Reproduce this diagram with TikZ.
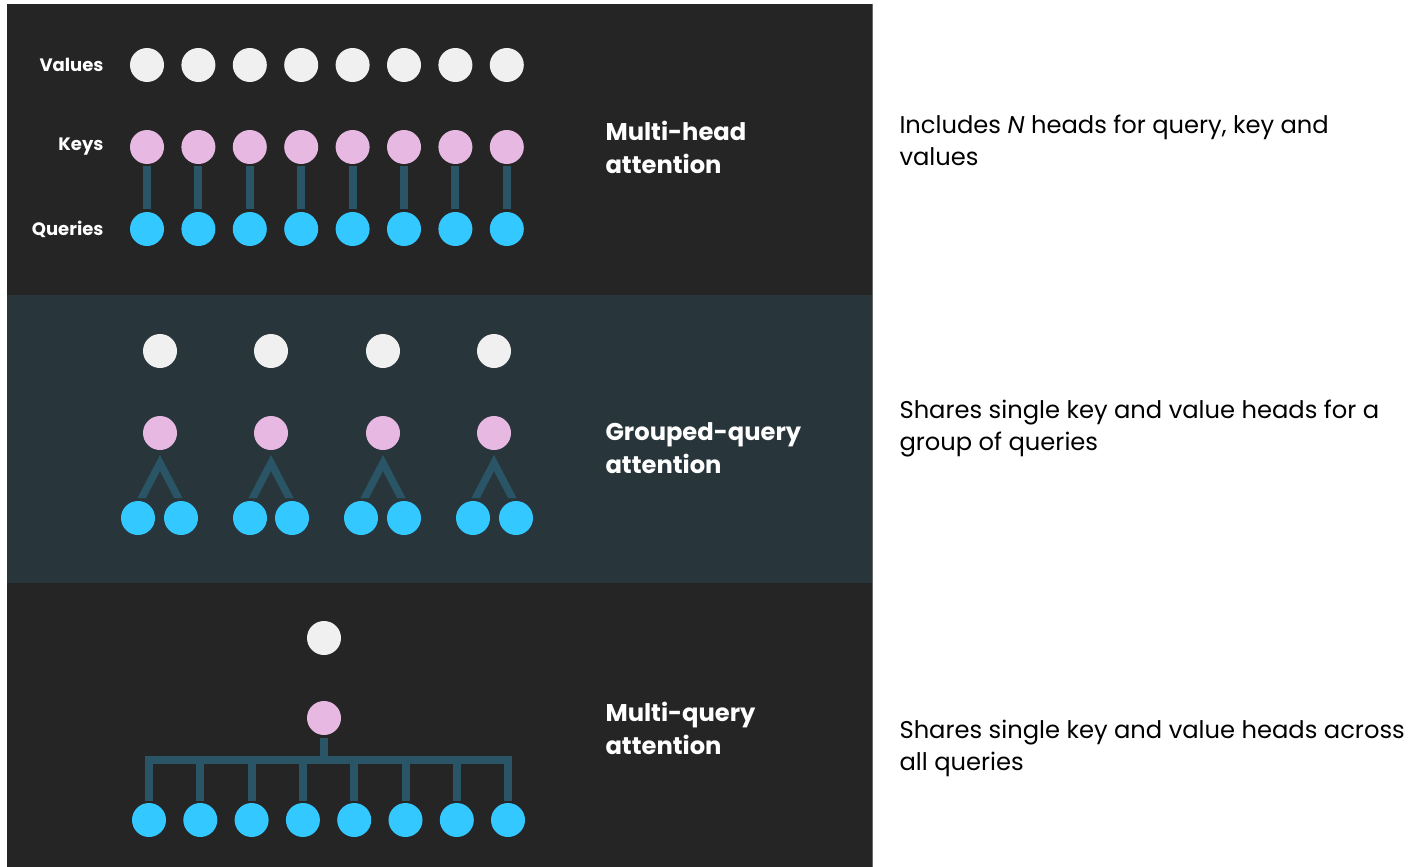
\documentclass[tikz,border=0pt]{standalone}
\usepackage{fontspec}
\setmainfont{Poppins}
\usetikzlibrary{calc}
\definecolor{bgdark}{HTML}{252525}
\definecolor{bgmid}{HTML}{28363C}
\definecolor{conncol}{HTML}{2A5566}
\definecolor{valcol}{HTML}{F0F0F0}
\definecolor{keycol}{HTML}{E6B8E2}
\definecolor{qcol}{HTML}{33C8FF}
\definecolor{edgecol}{HTML}{6A6A6A}
\tikzset{
  dot/.style={circle,inner sep=0pt,minimum size=34pt,draw=none},
  val/.style={dot,fill=valcol},
  key/.style={dot,fill=keycol},
  qry/.style={dot,fill=qcol},
  conn/.style={draw=conncol,line width=8pt},
  rowlabel/.style={anchor=east,text=white,font=\fontsize{18}{21}\selectfont\bfseries},
  mechlabel/.style={anchor=west,text=white,align=left,font=\fontsize{24.2}{33}\selectfont\bfseries},
  desc/.style={anchor=west,text=black,align=left,font=\fontsize{24.2}{32}\selectfont},
}
\begin{document}
\begin{tikzpicture}[x=1pt,y=-1pt]
\useasboundingbox (0,0) rectangle (1421,867);
\fill[white] (0,0) rectangle (1421,867);
% panels
\fill[bgdark] (7,4) rectangle (872,295);
\fill[bgmid] (7,295) rectangle (872,583);
\fill[bgdark] (7,583) rectangle (872,867);
\draw[edgecol,line width=1pt] (872,4) -- (872,867);

% ---------- Multi-head attention ----------
\node[rowlabel] (lv) at (107,65) {Values};
\node[rowlabel] (lk) at (107,147) {Keys};
\node[rowlabel] (lq) at (107,229) {Queries};
\foreach \i/\x in {1/147,2/198.4,3/249.8,4/301.2,5/352.6,6/404,7/455.4,8/506.8}{
  \node[val] (mv\i) at (\x,65) {};
  \node[key] (mk\i) at (\x,147) {};
  \node[qry] (mq\i) at (\x,229) {};
  \draw[conn,shorten <=2pt,shorten >=3pt] (mk\i) -- (mq\i);
}
\node[mechlabel] (mh) at (602,147) {Multi-head\\attention};
\node[desc] (dmh) at (896,140) {Includes \textit{N} heads for query, key and\\values};

% ---------- Grouped-query attention ----------
\foreach \g/\x/\qa/\qb in {1/160/138/181,2/271/250/292,3/383/361/404,4/494/473/516}{
  \node[val] (gv\g) at (\x,351) {};
  \node[key] (gk\g) at (\x,433) {};
  \node[qry] (gqa\g) at (\qa,518) {};
  \node[qry] (gqb\g) at (\qb,518) {};
  \fill[conncol] ($(gk\g)+(0,22)$) -- ($(gk\g)+(22.5,65)$) -- ($(gk\g)+(14.1,65)$)
     -- ($(gk\g)+(0,38)$) -- ($(gk\g)+(-14.1,65)$) -- ($(gk\g)+(-22.5,65)$) -- cycle;
}
\node[mechlabel] (gq) at (602,448) {Grouped-query\\attention};
\node[desc] (dgq) at (896,429) {Shares single key and value heads for a\\group of queries};

% ---------- Multi-query attention ----------
\node[val] (qv) at (324,638) {};
\node[key] (qk) at (324,718) {};
\coordinate (bar) at (324,760);
\draw[conn,shorten <=3pt] (qk) -- (bar);
\foreach \i/\x in {1/149,2/200.3,3/251.6,4/302.9,5/354.2,6/405.5,7/456.8,8/508}{
  \node[qry] (qq\i) at (\x,820) {};
  \draw[conn,shorten <=2pt] (qq\i) -- (qq\i |- bar);
}
\draw[conn] ([xshift=-4pt]qq1.center |- bar) -- ([xshift=4pt]qq8.center |- bar);
\node[mechlabel] (mq) at (602,728) {Multi-query\\attention};
\node[desc] (dmq) at (896,748) {Shares single key and value heads across\\all queries};
\end{tikzpicture}
\end{document}
